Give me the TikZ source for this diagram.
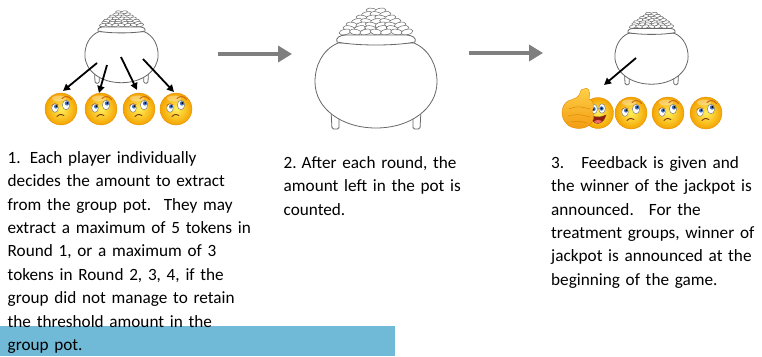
\documentclass[tikz,border=0pt]{standalone}
\usepackage{fontspec}
\setmainfont{Carlito}
\usetikzlibrary{arrows.meta}

\definecolor{potline}{HTML}{666666}
\definecolor{flowgray}{HTML}{7F7F7F}
\definecolor{barblue}{HTML}{70B9D7}
\definecolor{faceinner}{HTML}{FFF05A}
\definecolor{faceouter}{HTML}{F4A300}
\definecolor{faceedge}{HTML}{E08A00}
\definecolor{iris}{HTML}{3F72BD}
\definecolor{brow}{HTML}{C96A12}
\definecolor{mouthline}{HTML}{7A3A10}
\definecolor{mouthred}{HTML}{8E1E12}
\definecolor{tongue}{HTML}{F06A6A}
\definecolor{handlight}{HTML}{FFD34A}
\definecolor{handdark}{HTML}{F29A12}

\tikzset{
  x=1pt, y=-1pt,
  coin/.style={draw=potline, fill=white, line width=0.5pt},
  potstroke/.style={draw=potline, fill=white, line width=0.8pt},
  flow/.style={draw=flowgray, line width=4.6pt,
    -{Triangle[length=14pt,width=16pt]}},
  token/.style={draw=black, line width=1.8pt,
    -{Triangle[length=7pt,width=7pt]}},
  caption/.style={font=\fontsize{17.2}{23.4}\selectfont, align=left,
    text width=300pt, inner sep=0pt, anchor=base west},
  % cooking pot full of coins, origin at the centre of the belly
  pics/cookpot/.style={code={
    \draw[potstroke, rounded corners=1.5] (-45,24) -- (-44,43) -- (-37,43) -- (-37,24);
    \draw[potstroke, rounded corners=1.5] (37,24) -- (37,43) -- (44,43) -- (45,24);
    \draw[potstroke] (-38,-43) .. controls (-54,-36) and (-61,-20) .. (-61,-4)
      .. controls (-61,22) and (-35,42) .. (0,42)
      .. controls (35,42) and (61,22) .. (61,-4)
      .. controls (61,-20) and (54,-36) .. (38,-43) -- cycle;
    \foreach \yy/\n/\w in {-75/2/4, -71.5/3/9, -68/4/14, -64.5/5/19,
                           -61/6/24, -57.5/6/27, -54/7/31}{
      \pgfmathsetmacro\stp{2*\w/(\n-1)}
      \foreach \i in {1,...,\n}{
        \pgfmathsetmacro\xx{-\w+(\i-1)*\stp}
        \pgfmathsetmacro\ang{mod(\i+\n,2)==0 ? 12 : -10}
        \draw[coin, rotate around={\ang:(\xx,\yy)}] (\xx,\yy)
          ellipse [x radius=6, y radius=2.7];
      }
    }
    \draw[potstroke] (-39,-44) .. controls (-20,-40) and (20,-40) .. (39,-44)
      .. controls (41,-48) and (36,-51) .. (30,-51) -- (-30,-51)
      .. controls (-36,-51) and (-41,-48) .. (-39,-44) -- cycle;
  }},
  % puzzled smiley, origin at its centre
  pics/puzzled/.style={code={
    \shade[inner color=faceinner, outer color=faceouter]
      (0,0) circle [radius=16];
    \draw[faceedge, line width=0.3pt] (0,0) circle [radius=16];
    \fill[white, opacity=0.35] (-2,-10.5) ellipse [x radius=7, y radius=3];
    \filldraw[fill=white, draw=black!55, line width=0.4pt]
      (-6,-1) ellipse [x radius=3.3, y radius=4.3];
    \fill[iris] (-5,-2.4) circle [radius=2];
    \fill[black] (-4.6,-2.8) circle [radius=0.9];
    \filldraw[fill=white, draw=black!55, line width=0.4pt]
      (5,-4) ellipse [x radius=3.6, y radius=4.8];
    \fill[iris] (6,-5.6) circle [radius=2.2];
    \fill[black] (6.4,-6) circle [radius=1];
    \draw[brow, line width=1pt, line cap=round]
      (1,-10.5) .. controls (4,-13.5) and (8,-13) .. (10.5,-9.5);
    \draw[brow, line width=0.6pt, line cap=round]
      (-9.5,-3.5) .. controls (-7,-5.5) .. (-3,-4.5);
    \draw[mouthline, line width=0.9pt, line cap=round]
      (-4,7.5) .. controls (-1,5) .. (3,6.5);
  }},
  % smiley giving a thumbs up, origin at the centre of the face
  pics/thumbsup/.style={code={
    \shade[inner color=faceinner, outer color=faceouter]
      (0,0) circle [radius=15.5];
    \draw[faceedge, line width=0.3pt] (0,0) circle [radius=15.5];
    \filldraw[fill=white, draw=black!55, line width=0.4pt]
      (-4,-4) ellipse [x radius=3.4, y radius=4.8];
    \filldraw[fill=white, draw=black!55, line width=0.4pt]
      (4,-4.5) ellipse [x radius=3.4, y radius=4.8];
    \fill[iris] (-4.5,-4) circle [radius=2.2];
    \fill[iris] (3.5,-4.5) circle [radius=2.2];
    \fill[black] (-4.5,-4) circle [radius=1];
    \fill[black] (3.5,-4.5) circle [radius=1];
    \filldraw[fill=mouthred, draw=mouthline, line width=0.4pt]
      (-8,3) .. controls (-5,13) and (5,13) .. (8,2) .. controls (2,4.5) .. (-8,3) -- cycle;
    \fill[tongue] (-4,8.5) .. controls (-1,6.5) and (2,6.5) .. (4,8)
      .. controls (2,11) and (-2,11) .. (-4,8.5) -- cycle;
    \shade[top color=handlight, bottom color=handdark]
      (-14,-24) .. controls (-10,-27) and (-7,-22) .. (-9,-14)
      .. controls (-4,-13) and (-3,-5) .. (-6,-2)
      .. controls (-3,2) and (-4,10) .. (-10,13)
      .. controls (-16,17) and (-28,16) .. (-32,10)
      .. controls (-38,4) and (-37,-8) .. (-30,-12)
      .. controls (-25,-14) and (-19,-15) .. (-18,-20)
      .. controls (-17,-24) and (-16,-24) .. (-14,-24) -- cycle;
    \draw[faceedge, line width=0.4pt]
      (-14,-24) .. controls (-10,-27) and (-7,-22) .. (-9,-14)
      .. controls (-4,-13) and (-3,-5) .. (-6,-2)
      .. controls (-3,2) and (-4,10) .. (-10,13)
      .. controls (-16,17) and (-28,16) .. (-32,10)
      .. controls (-38,4) and (-37,-8) .. (-30,-12)
      .. controls (-25,-14) and (-19,-15) .. (-18,-20)
      .. controls (-17,-24) and (-16,-24) .. (-14,-24) -- cycle;
    \draw[faceedge, line width=0.5pt]
      (-29,-4) .. controls (-20,-7) .. (-8,-4)
      (-30,3) .. controls (-20,1) .. (-8,4)
      (-27,9) .. controls (-19,8) .. (-11,10);
  }}
}

\begin{document}
\begin{tikzpicture}
  \useasboundingbox (0,0) rectangle (762,356);
  \fill[white] (0,0) rectangle (762,356);

  % blue band behind the last lines of the first caption
  \fill[barblue] (0,326) rectangle (395,356);

  % stage 1: players take tokens from the pot
  \pic[scale=0.6] (potA) at (121.5,57.5) {cookpot};
  \pic (pA1) at (61,109) {puzzled};
  \pic (pA2) at (101,109) {puzzled};
  \pic (pA3) at (139,109) {puzzled};
  \pic (pA4) at (176,109) {puzzled};
  \coordinate (s1) at (97,63);  \coordinate (e1) at (63,91);
  \coordinate (s2) at (107,65); \coordinate (e2) at (99,93);
  \coordinate (s3) at (121,57); \coordinate (e3) at (137,90);
  \coordinate (s4) at (143,59); \coordinate (e4) at (174,92);
  \draw[token] (s1) -- (e1);
  \draw[token] (s2) -- (e2);
  \draw[token] (s3) -- (e3);
  \draw[token] (s4) -- (e4);

  % stage 2: the pot is counted
  \pic (potB) at (376,86) {cookpot};

  % stage 3: the jackpot goes to one player
  \pic[scale=0.6] (potC) at (651.5,59) {cookpot};
  \pic (pC2) at (631,113) {puzzled};
  \pic (pC3) at (668,113) {puzzled};
  \pic (pC4) at (706,113) {puzzled};
  \pic (pC1) at (598,113) {thumbsup};
  \coordinate (s5) at (636,58); \coordinate (e5) at (604,85);
  \draw[token] (s5) -- (e5);

  % flow between the stages
  \coordinate (f1a) at (218,54); \coordinate (f1b) at (292,54);
  \coordinate (f2a) at (469,53); \coordinate (f2b) at (543,53);
  \draw[flow] (f1a) -- (f1b);
  \draw[flow] (f2a) -- (f2b);

  % captions
  \node[caption] (t1) at (7.5,163.3) {1.\hspace{9pt}Each player individually\\
    decides the amount to extract\\
    from the group pot.\hspace{4pt} They may\\
    extract a maximum of 5 tokens in\\
    Round 1, or a maximum of 3\\
    tokens in Round 2, 3, 4, if the\\
    group did not manage to retain\\
    the threshold amount in the\\
    group pot.};
  \node[caption] (t2) at (283.5,168.3) {2.\hspace{5pt}After each round, the\\
    amount left in the pot is\\
    counted.};
  \node[caption] (t3) at (551,168.3) {3.\hspace{17pt}Feedback is given and\\
    the winner of the jackpot is\\
    announced.\hspace{15pt}For the\\
    treatment groups, winner of\\
    jackpot is announced at the\\
    beginning of the game.};
\end{tikzpicture}
\end{document}
